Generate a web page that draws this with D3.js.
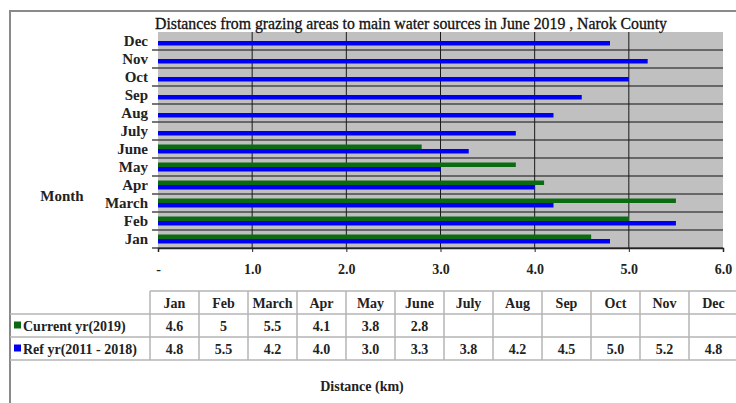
<!DOCTYPE html>
<html>
<head>
<meta charset="utf-8">
<script src="https://cdn.jsdelivr.net/npm/d3@7"></script>
<style>
  body { margin: 0; background: #fff; }
  svg { display: block; font-family: "Liberation Serif", "DejaVu Serif", serif; }
</style>
</head>
<body>
<div id="chart"></div>
<script>
// data
const months = ["Jan", "Feb", "March", "Apr", "May", "June", "July", "Aug", "Sep", "Oct", "Nov", "Dec"];
const currentYr = [4.6, 5, 5.5, 4.1, 3.8, 2.8, null, null, null, null, null, null];
const refYr = [4.8, 5.5, 4.2, 4.0, 3.0, 3.3, 3.8, 4.2, 4.5, 5.0, 5.2, 4.8];
const seriesNames = ["Current yr(2019)", "Ref yr(2011 - 2018)"];
const xTicks = [0, 1, 2, 3, 4, 5, 6];

const width = 736, height = 403;
const plot = { left: 158, right: 723, top: 32, bottom: 248 };
const green = "#0b6b12", blue = "#0000f0";

const svg = d3.select("#chart").append("svg")
    .attr("width", width)
    .attr("height", height);

// outer frame
svg.append("path")
    .attr("d", "M10," + height + "V11H" + width)
    .attr("fill", "none")
    .attr("stroke", "#8a8a8a")
    .attr("stroke-width", 2);

const x = d3.scaleLinear().domain([0, 6]).range([plot.left, plot.right]);
const y = d3.scaleBand().domain(months.slice().reverse()).range([plot.top, plot.bottom]);
const inner = d3.scaleBand().domain(["current", "ref"]).range([0, y.bandwidth()]).paddingOuter(1);

const rows = months.map((m, i) => ({ month: m, current: currentYr[i], ref: refYr[i] }));

// plot background
svg.append("rect")
    .attr("x", plot.left)
    .attr("y", plot.top)
    .attr("width", plot.right - plot.left)
    .attr("height", plot.bottom - plot.top)
    .attr("fill", "#c0c0c0");

// horizontal lines between months (with small ticks to the left)
svg.append("g").selectAll("line")
    .data(months)
    .enter().append("line")
    .attr("x1", plot.left - 6)
    .attr("x2", plot.right)
    .attr("y1", d => y(d) + y.bandwidth())
    .attr("y2", d => y(d) + y.bandwidth())
    .attr("stroke", "#4a4a4a")
    .attr("stroke-width", 1.5);

// vertical grid
svg.append("g").selectAll("line")
    .data(xTicks.slice(1, -1))
    .enter().append("line")
    .attr("x1", d => x(d))
    .attr("x2", d => x(d))
    .attr("y1", plot.top)
    .attr("y2", plot.bottom)
    .attr("stroke", "#1a1a1a")
    .attr("stroke-width", 1);

// bars
const band = svg.append("g").selectAll("g")
    .data(rows)
    .enter().append("g")
    .attr("transform", d => "translate(0," + y(d.month) + ")");

band.filter(d => d.current != null).append("rect")
    .attr("x", x(0))
    .attr("y", inner("current"))
    .attr("width", d => x(d.current) - x(0))
    .attr("height", inner.bandwidth())
    .attr("fill", green);

band.append("rect")
    .attr("x", x(0))
    .attr("y", inner("ref"))
    .attr("width", d => x(d.ref) - x(0))
    .attr("height", inner.bandwidth())
    .attr("fill", blue);

// left axis (month labels)
svg.append("g")
    .attr("transform", "translate(" + (plot.left - 10) + ",0)")
    .call(d3.axisLeft(y).tickSize(0).tickPadding(0))
    .call(g => g.select(".domain").remove())
    .selectAll("text")
    .attr("font-family", "Liberation Serif")
    .attr("font-size", 15)
    .attr("font-weight", "bold")
    .attr("fill", "#222")
    .attr("dy", "0.3em");

// bottom axis
svg.append("g")
    .attr("transform", "translate(0," + plot.bottom + ")")
    .call(d3.axisBottom(x).tickValues(xTicks).tickSize(4).tickPadding(12)
        .tickFormat(d => d === 0 ? "-" : d3.format(".1f")(d)))
    .call(g => g.select(".domain").attr("stroke", "#222").attr("stroke-width", 1.5))
    .call(g => g.selectAll(".tick line").attr("stroke", "#222"))
    .selectAll("text")
    .attr("font-family", "Liberation Serif")
    .attr("font-size", 14)
    .attr("font-weight", "bold")
    .attr("fill", "#222");

// title
svg.append("text")
    .attr("x", 155)
    .attr("y", 29)
    .attr("font-size", 16)
    .attr("fill", "#111")
    .attr("stroke", "#111")
    .attr("stroke-width", 0.3)
    .attr("textLength", 512)
    .attr("lengthAdjust", "spacingAndGlyphs")
    .text("Distances from grazing areas to main water sources in  June 2019 ,  Narok County");

// y axis title
svg.append("text")
    .attr("x", 62)
    .attr("y", 201)
    .attr("text-anchor", "middle")
    .attr("font-size", 15)
    .attr("font-weight", "bold")
    .attr("fill", "#222")
    .text("Month");

// data table
const table = { left: 150, right: 736, legendLeft: 10, top: 291, rowH: 23 };
const col = d3.scaleBand().domain(months).range([table.left, table.left + 49 * 12]);
const tableG = svg.append("g");
const lineColor = "#b4b4b4";

// horizontal table lines
[0, 1, 2, 3].forEach(function (r) {
    tableG.append("line")
        .attr("x1", r === 0 ? table.left : table.legendLeft)
        .attr("x2", table.right)
        .attr("y1", table.top + r * table.rowH)
        .attr("y2", table.top + r * table.rowH)
        .attr("stroke", lineColor)
        .attr("stroke-width", 1.5);
});

// vertical table lines
tableG.selectAll(".vline")
    .data(months)
    .enter().append("line")
    .attr("class", "vline")
    .attr("x1", d => col(d))
    .attr("x2", d => col(d))
    .attr("y1", table.top)
    .attr("y2", table.top + 3 * table.rowH)
    .attr("stroke", lineColor)
    .attr("stroke-width", 1.5);

tableG.selectAll(".hdr")
    .data(months)
    .enter().append("text")
    .attr("class", "hdr")
    .attr("x", d => col(d) + col.bandwidth() / 2)
    .attr("y", table.top + table.rowH / 2 + 5)
    .attr("text-anchor", "middle")
    .attr("font-size", 14)
    .attr("font-weight", "bold")
    .attr("fill", "#222")
    .text(d => d);

const seriesRows = [
    { name: seriesNames[0], color: green, values: currentYr, fmt: v => String(v) },
    { name: seriesNames[1], color: blue, values: refYr, fmt: v => v.toFixed(1) }
];

seriesRows.forEach(function (s, r) {
    const cy = table.top + (r + 1.5) * table.rowH;
    tableG.append("rect")
        .attr("x", 14)
        .attr("y", cy - 4)
        .attr("width", 7)
        .attr("height", 7)
        .attr("fill", s.color);
    tableG.append("text")
        .attr("x", 23)
        .attr("y", cy + 5)
        .attr("font-size", 14)
        .attr("font-weight", "bold")
        .attr("fill", "#222")
        .text(s.name);
    tableG.selectAll(".v" + r)
        .data(months)
        .enter().append("text")
        .attr("x", d => col(d) + col.bandwidth() / 2)
        .attr("y", cy + 5)
        .attr("text-anchor", "middle")
        .attr("font-size", 14)
        .attr("font-weight", "bold")
        .attr("fill", "#222")
        .text((d, i) => s.values[i] == null ? "" : s.fmt(s.values[i]));
});

// x axis title
svg.append("text")
    .attr("x", 362)
    .attr("y", 391)
    .attr("text-anchor", "middle")
    .attr("font-size", 14)
    .attr("font-weight", "bold")
    .attr("fill", "#222")
    .text("Distance (km)");
</script>
</body>
</html>
